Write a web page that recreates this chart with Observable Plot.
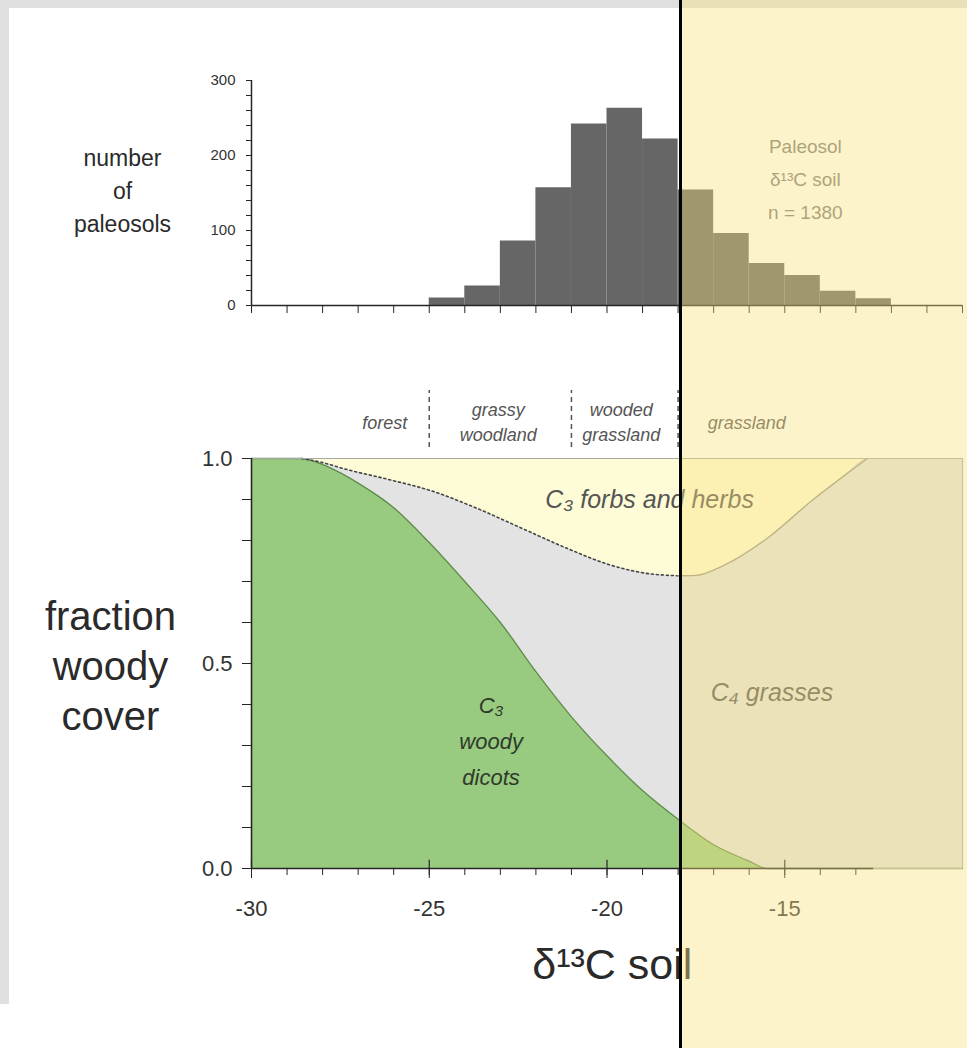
<!DOCTYPE html>
<html><head><meta charset="utf-8">
<script src="https://cdn.jsdelivr.net/npm/d3@7"></script>
<script src="https://cdn.jsdelivr.net/npm/@observablehq/plot@0.6"></script>
<style>
body{margin:0;background:#fff;}
#page{position:relative;width:967px;height:1048px;overflow:hidden;background:#fff;}
.strip{position:absolute;background:#e0e0e0;}
#top,#bottom{position:absolute;left:0;}
#overlay{position:absolute;top:0;bottom:0;right:0;background:rgba(250,225,125,0.4);border-left:3px solid #000;}
</style></head><body>
<div id="page">
  <div class="strip" style="left:0;top:0;width:967px;height:8px"></div>
  <div class="strip" style="left:0;top:0;width:9px;height:1004px"></div>
  <div id="top" style="top:0"></div>
  <div id="bottom" style="top:360px"></div>
  <div id="overlay"></div>
</div>
<script>
// ---- data ----
const binStart = [-25, -24, -23, -22, -21, -20, -19, -18, -17, -16, -15, -14, -13];
const binCount = [10, 26, 86, 157, 242, 263, 222, 154, 96, 56, 40, 19, 9];
const histYTicks = [0, 100, 200, 300];

const woodyX = [-30, -28.6, -28, -27.5, -27, -26, -25, -24, -23, -22, -21, -20, -19, -18, -17, -16, -15.5, -10];
const woodyY = [1, 1, 0.985, 0.965, 0.94, 0.88, 0.795, 0.70, 0.60, 0.48, 0.37, 0.275, 0.19, 0.12, 0.058, 0.018, 0, 0];

const upperX = [-30, -28.6, -28, -27.4, -26.2, -24.9, -23.7, -22.4, -21.1, -19.9, -18.9, -18, -17.5, -16.7, -15.5, -14.2, -13.3, -12.68, -10];
const upperY = [1, 1, 0.99, 0.975, 0.95, 0.92, 0.88, 0.83, 0.78, 0.74, 0.72, 0.714, 0.715, 0.74, 0.805, 0.9, 0.96, 1, 1];

const zoneBounds = [-25, -21, -18];
const zoneNames = ["forest", "grassy\nwoodland", "wooded\ngrassland", "grassland"];
const zoneCenters = [-26.25, -23.06, -19.6, -16.07];

const xMajor = [-30, -25, -20, -15];
const yMajor = [0, 0.5, 1];
const highlightStart = -17.93;

// ---- tables ----
const hist = binStart.map((x, i) => ({x1: x, x2: x + 1, count: binCount[i]}));
const woody = woodyX.map((x, i) => ({x, y: woodyY[i]}));
const upper = upperX.map((x, i) => ({x, y: upperY[i]}));
const zones = zoneNames.map((t, i) => ({t, x: zoneCenters[i], y: 1.0927}));

const FONT = '"Liberation Sans", Arial, sans-serif';
const INK = "#262626";

const topPlot = Plot.plot({
  width: 967, height: 360,
  marginLeft: 251, marginRight: 5, marginTop: 80, marginBottom: 55,
  style: {background: "transparent", fontFamily: FONT, color: INK, overflow: "visible"},
  x: {domain: [-30, -10]},
  y: {domain: [0, 300]},
  marks: [
    Plot.rectY(hist, {x1: "x1", x2: "x2", y: "count", fill: "#666666", inset: 0}),
    Plot.axisX({ticks: d3.range(-30, -9, 1), tickSize: 8, tickFormat: () => "", label: null, stroke: INK}),
    Plot.axisY({ticks: d3.range(0, 301, 20), tickSize: 5, tickFormat: () => "", label: null, stroke: INK}),
    Plot.axisY({ticks: histYTicks, tickSize: 5, tickPadding: 11, fontSize: 15, label: null, tickFormat: d => String(d), stroke: INK, fill: "#333"}),
    Plot.ruleY([0], {x1: -30, x2: -10, stroke: INK, strokeWidth: 1.5}),
    Plot.ruleX([-30], {y1: 0, y2: 300, stroke: INK, strokeWidth: 1.5}),
    Plot.text([{t: "number\nof\npaleosols", y: 156}], {text: "t", y: "y", frameAnchor: "left", dx: -129, textAnchor: "middle", fontSize: 23, lineHeight: 1.43, fill: "#2a2a2a"}),
    Plot.text([{t: "Paleosol\nδ¹³C soil\nn = 1380", x: -14.42, y: 173}], {text: "t", x: "x", y: "y", textAnchor: "middle", fontSize: 19, lineHeight: 1.74, fill: "#7a7a7a"})
  ]
});
document.getElementById("top").appendChild(topPlot);

const bottomPlot = Plot.plot({
  width: 967, height: 688,
  marginLeft: 251, marginRight: 5, marginTop: 98, marginBottom: 180,
  style: {background: "transparent", fontFamily: FONT, color: INK, overflow: "visible"},
  x: {domain: [-30, -10]},
  y: {domain: [0, 1]},
  marks: [
    Plot.areaY(upper, {x: "x", y1: 0, y2: "y", fill: "#e3e3e3", curve: "monotone-x"}),
    Plot.areaY(upper, {x: "x", y1: "y", y2: 1, fill: "#fdfcd6", curve: "monotone-x"}),
    Plot.areaY(woody, {x: "x", y1: 0, y2: "y", fill: "#98cb80", curve: "monotone-x"}),
    Plot.line(woody, {x: "x", y: "y", stroke: "#5d8c4a", strokeWidth: 1.3, curve: "monotone-x"}),
    Plot.line(upper.filter(d => d.x >= -28.6 && d.x <= -18), {x: "x", y: "y", stroke: "#444", strokeWidth: 1.6, strokeDasharray: "2,3", curve: "monotone-x"}),
    Plot.line(upper.filter(d => d.x >= -18 && d.x <= -12.68), {x: "x", y: "y", stroke: "#9a9a8a", strokeWidth: 1.4, curve: "monotone-x"}),
    // plot box
    Plot.ruleY([1], {x1: -30, x2: -10, stroke: "#a8a8a8", strokeWidth: 1.2}),
    Plot.ruleX([-10], {y1: 0, y2: 1, stroke: "#b0b0b0", strokeWidth: 1.2}),
    Plot.ruleY([0], {x1: -12.5, x2: -10, stroke: "#b0b0b0", strokeWidth: 1.2}),
    // axes
    Plot.axisX({ticks: d3.range(-30, -12.5, 1), tickSize: 7, tickFormat: () => "", label: null, stroke: INK}),
    Plot.axisX({ticks: xMajor, tickSize: 10, tickPadding: 22, fontSize: 22, label: null, tickFormat: d => String(d), stroke: INK, fill: "#333"}),
    Plot.ruleX(xMajor, {y1: 0, y2: 0.02, stroke: INK, strokeWidth: 1.2}),
    Plot.axisY({ticks: d3.range(0, 1.001, 0.1), tickSize: 9, tickFormat: () => "", label: null, stroke: INK}),
    Plot.axisY({ticks: yMajor, tickSize: 9, tickPadding: 10, fontSize: 22, label: null, tickFormat: d3.format(".1f"), stroke: INK, fill: "#333"}),
    Plot.ruleY([0], {x1: -30, x2: -12.5, stroke: INK, strokeWidth: 1.6}),
    Plot.ruleX([-30], {y1: 0, y2: 1, stroke: INK, strokeWidth: 1.6}),
    // vegetation zones
    Plot.ruleX(zoneBounds, {y1: 1.027, y2: 1.166, stroke: "#555", strokeWidth: 1.5, strokeDasharray: "5,4"}),
    Plot.text(zones, {x: "x", y: "y", text: "t", fontSize: 18, fontStyle: "italic", lineHeight: 1.39, fill: "#555"}),
    // region labels
    Plot.text([{t: "C₃ forbs and herbs", x: -18.8, y: 0.898}], {x: "x", y: "y", text: "t", fontSize: 25, fontStyle: "italic", fill: "#555"}),
    Plot.text([{t: "C₄ grasses", x: -15.36, y: 0.429}], {x: "x", y: "y", text: "t", fontSize: 25, fontStyle: "italic", fill: "#555"}),
    Plot.text([{t: "C₃\nwoody\ndicots", x: -23.26, y: 0.32}], {x: "x", y: "y", text: "t", fontSize: 22, fontStyle: "italic", lineHeight: 1.64, fill: "#2f3a2a"}),
    // axis titles
    Plot.text([{t: "fraction\nwoody\ncover", y: 0.5}], {y: "y", text: "t", frameAnchor: "left", dx: -141, textAnchor: "middle", fontSize: 40, lineHeight: 1.25, fill: "#2a2a2a"}),
    Plot.text([{t: "δ¹³C soil", x: -19.85, y: -0.237}], {x: "x", y: "y", text: "t", fontSize: 43, fill: "#2a2a2a"})
  ]
});
document.getElementById("bottom").appendChild(bottomPlot);

const px = bottomPlot.scale("x").apply(highlightStart);
const ov = document.getElementById("overlay");
ov.style.left = (px - 1.5) + "px";
</script>
</body></html>
